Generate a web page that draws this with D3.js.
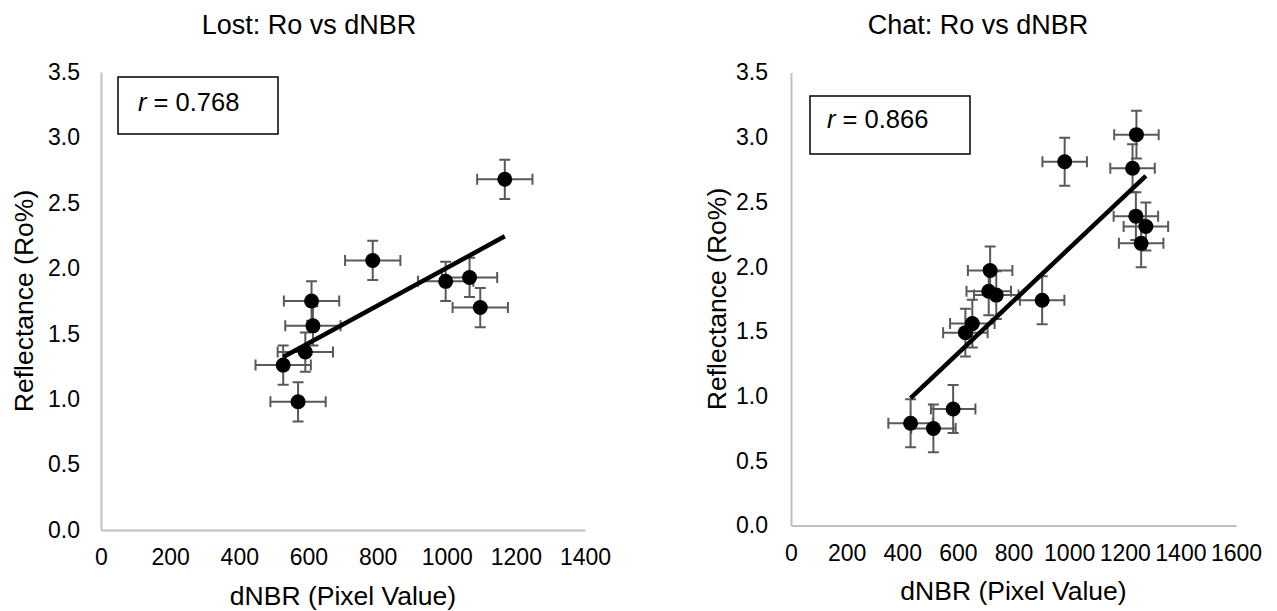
<!DOCTYPE html>
<html>
<head>
<meta charset="utf-8">
<script src="https://cdn.jsdelivr.net/npm/d3@7"></script>
<style>
  body { margin: 0; background: #fff; }
  text { font-family: "Liberation Sans", Arial, sans-serif; fill: #000; }
</style>
</head>
<body>
<script>
const width = 1277;
const height = 611;

// Lost site: dNBR vs Ro%
const lostX = [1168, 786, 997, 1066, 1097, 609, 613, 591, 527, 570];
const lostY = [2.68, 2.06, 1.90, 1.93, 1.70, 1.75, 1.56, 1.36, 1.26, 0.98];
const lostXErr = 80;
const lostYErr = 0.15;

// Chat site: dNBR vs Ro%
const chatX = [1242, 984, 1228, 1240, 1276, 1259, 716, 711, 738, 903, 652, 627, 583, 430, 512];
const chatY = [3.02, 2.81, 2.76, 2.39, 2.31, 2.18, 1.97, 1.81, 1.78, 1.74, 1.56, 1.49, 0.90, 0.79, 0.75];
const chatXErr = 80;
const chatYErr = 0.185;

const lostXTicks = [0, 200, 400, 600, 800, 1000, 1200, 1400];
const chatXTicks = [0, 200, 400, 600, 800, 1000, 1200, 1400, 1600];
const yTicks = [0, 0.5, 1.0, 1.5, 2.0, 2.5, 3.0, 3.5];

const titles = ["Lost: Ro vs dNBR", "Chat: Ro vs dNBR"];
const rLabels = ["0.768", "0.866"];
const xTitle = "dNBR (Pixel Value)";
const yTitle = "Reflectance (Ro%)";

const svg = d3.select("body")
  .append("svg")
  .attr("width", width)
  .attr("height", height);

const panels = [
  {
    xs: lostX, ys: lostY, xErr: lostXErr, yErr: lostYErr, xTicks: lostXTicks,
    xMax: 1400, title: titles[0], r: rLabels[0],
    left: 101, right: 585, top: 72, bottom: 530,
    titleX: 309, titleY: 34, yTitleX: 33, xTitleY: 605,
    box: [118, 77, 160, 57], textX: 138, textY: 111, yPad: 21
  },
  {
    xs: chatX, ys: chatY, xErr: chatXErr, yErr: chatYErr, xTicks: chatXTicks,
    xMax: 1600, title: titles[1], r: rLabels[1],
    left: 791, right: 1236, top: 72.5, bottom: 525.5,
    titleX: 978, titleY: 34, yTitleX: 726, xTitleY: 600,
    box: [810, 96, 160, 58], textX: 827, textY: 128, yPad: 23
  }
];

panels.forEach(drawPanel);

function drawPanel(p) {
  const x = d3.scaleLinear().domain([0, p.xMax]).range([p.left, p.right]);
  const y = d3.scaleLinear().domain([0, 3.5]).range([p.bottom, p.top]);
  const g = svg.append("g");

  // axes
  const xAxis = g.append("g")
    .attr("transform", `translate(0,${p.bottom})`)
    .call(d3.axisBottom(x).tickValues(p.xTicks).tickSize(0).tickSizeOuter(0).tickPadding(19).tickFormat(d3.format("d")));
  const yAxis = g.append("g")
    .attr("transform", `translate(${p.left},0)`)
    .call(d3.axisLeft(y).tickValues(yTicks).tickSize(0).tickSizeOuter(0).tickPadding(p.yPad).tickFormat(d3.format(".1f")));

  [xAxis, yAxis].forEach(a => {
    a.select(".domain").attr("stroke", "#bfbfbf").attr("stroke-width", 2);
    a.selectAll("text").attr("font-size", 23).attr("fill", "#000")
      .attr("font-family", "Liberation Sans, Arial, sans-serif");
  });

  // titles
  g.append("text")
    .attr("x", p.titleX).attr("y", p.titleY)
    .attr("text-anchor", "middle").attr("font-size", 27)
    .text(p.title);
  g.append("text")
    .attr("x", (p.left + p.right) / 2).attr("y", p.xTitleY)
    .attr("text-anchor", "middle").attr("font-size", 26.5)
    .text(xTitle);
  g.append("text")
    .attr("transform", `translate(${p.yTitleX},${(p.top + p.bottom) / 2}) rotate(-90)`)
    .attr("text-anchor", "middle").attr("font-size", 26.5)
    .text(yTitle);

  // r box
  g.append("rect")
    .attr("x", p.box[0]).attr("y", p.box[1])
    .attr("width", p.box[2]).attr("height", p.box[3])
    .attr("fill", "#fff").attr("stroke", "#000").attr("stroke-width", 1.5);
  const rt = g.append("text")
    .attr("x", p.textX).attr("y", p.textY)
    .attr("font-size", 25.5);
  rt.append("tspan").attr("font-style", "italic").text("r");
  rt.append("tspan").text(" = " + p.r);

  const pts = p.xs.map((v, i) => ({ x: v, y: p.ys[i] }));
  const cap = 5.5;
  const errColor = "#595959";

  // error bars
  const eb = g.append("g").attr("stroke", errColor).attr("stroke-width", 2).attr("fill", "none");
  pts.forEach(d => {
    const cx = x(d.x), cy = y(d.y);
    const x0 = x(d.x - p.xErr), x1 = x(d.x + p.xErr);
    const y0 = y(d.y - p.yErr), y1 = y(d.y + p.yErr);
    eb.append("path").attr("d",
      `M${x0},${cy}H${x1}M${x0},${cy - cap}V${cy + cap}M${x1},${cy - cap}V${cy + cap}` +
      `M${cx},${y0}V${y1}M${cx - cap},${y0}H${cx + cap}M${cx - cap},${y1}H${cx + cap}`);
  });

  // markers
  g.selectAll(".dot")
    .data(pts)
    .enter()
    .append("circle")
    .attr("class", "dot")
    .attr("cx", d => x(d.x))
    .attr("cy", d => y(d.y))
    .attr("r", 7.5)
    .attr("fill", "#000");

  // linear trendline (least squares)
  const mx = d3.mean(p.xs), my = d3.mean(p.ys);
  const sxy = d3.sum(pts, d => (d.x - mx) * (d.y - my));
  const sxx = d3.sum(pts, d => (d.x - mx) * (d.x - mx));
  const slope = sxy / sxx;
  const icpt = my - slope * mx;
  const ext = d3.extent(p.xs);
  g.append("line")
    .attr("x1", x(ext[0])).attr("y1", y(icpt + slope * ext[0]))
    .attr("x2", x(ext[1])).attr("y2", y(icpt + slope * ext[1]))
    .attr("stroke", "#000").attr("stroke-width", 4.5);
}
</script>
</body>
</html>
